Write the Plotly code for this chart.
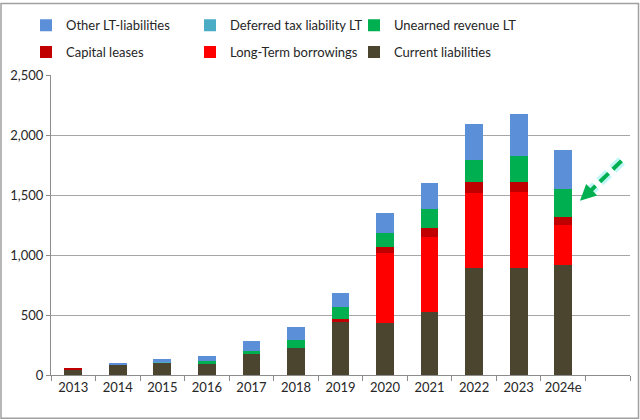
import plotly.graph_objects as go

years = ["2013", "2014", "2015", "2016", "2017", "2018", "2019", "2020", "2021", "2022", "2023", "2024e"]
current_liabilities = [40, 80, 108, 88, 171, 229, 441, 436, 524, 888, 894, 919]
long_term_borrowings = [0, 0, 0, 0, 0, 0, 0, 577, 627, 627, 632, 334]
capital_leases = [18, 0, 0, 0, 0, 0, 28, 55, 74, 91, 83, 64]
unearned_revenue_lt = [0, 0, 0, 25, 30, 63, 97, 119, 158, 185, 213, 229]
deferred_tax_lt = [0, 0, 3, 0, 0, 0, 0, 0, 0, 0, 0, 0]
other_lt_liabilities = [0, 17, 24, 44, 86, 105, 119, 165, 215, 298, 356, 325]
y_ticks = [0, 500, 1000, 1500, 2000, 2500]

FONT = "Lato"
TXT = "#262626"

# stack order bottom-up; legend rows shown in reversed order
series = [
    ("Current liabilities", current_liabilities, "#4B4530", "legend2"),
    ("Long-Term borrowings", long_term_borrowings, "#FF0000", "legend2"),
    ("Capital leases", capital_leases, "#C00000", "legend2"),
    ("Unearned revenue LT", unearned_revenue_lt, "#00B050", "legend"),
    ("Deferred tax liability LT", deferred_tax_lt, "#4BACC6", "legend"),
    ("Other LT-liabilities", other_lt_liabilities, "#5B8FD8", "legend"),
]

fig = go.Figure()
for name, vals, col, lg in series:
    fig.add_trace(go.Bar(x=years, y=vals, name=name, marker=dict(color=col, line=dict(width=0)),
                         legend=lg))

W, H = 640, 420
ml, mr, mt, mb = 51, 10, 73, 45
pw, ph = W - ml - mr, H - mt - mb

def px(x):
    return (x - ml) / pw

def py(y):
    return (H - mb - y) / ph

leg_common = dict(orientation="h", xanchor="left", yanchor="middle", traceorder="reversed",
                  font=dict(family=FONT, size=13, color=TXT), entrywidth=119, entrywidthmode="pixels",
                  bgcolor="rgba(0,0,0,0)")

fig.update_layout(
    width=W, height=H,
    margin=dict(l=ml, r=mr, t=mt, b=mb),
    barmode="stack", bargap=0.6,
    plot_bgcolor="white", paper_bgcolor="white",
    font=dict(family=FONT, size=13, color=TXT),
    legend=dict(x=px(26), y=py(23), **leg_common),
    legend2=dict(x=px(26), y=py(50), **leg_common),
    xaxis=dict(type="category", categoryorder="array", categoryarray=years + [" "],
               range=[-0.5, 12.5], showline=True, linecolor="#8C8C8C", linewidth=1,
               ticks="outside", tickson="boundaries", ticklen=5, tickcolor="#8C8C8C",
               tickangle=0, showgrid=False, tickfont=dict(family=FONT, size=13, color=TXT)),
    yaxis=dict(range=[0, 2500], tickvals=y_ticks, tickformat=",", showline=True, linecolor="#8C8C8C",
               linewidth=1, ticks="outside", ticklen=4, tickcolor="#8C8C8C", gridcolor="#A6A6A6",
               gridwidth=1, zeroline=False, tickfont=dict(family=FONT, size=13, color=TXT)),
    showlegend=True,
)

# outer chart border
fig.add_shape(type="rect", xref="paper", yref="paper", x0=px(1), x1=px(638.5), y0=py(418.5), y1=py(1),
              line=dict(color="#A0A0A0", width=1.5), fillcolor="rgba(0,0,0,0)", layer="above")

# dashed highlight arrow
tail = (621.5, 159.5)
head = (587, 193)
fig.add_shape(type="line", xref="paper", yref="paper", x0=px(tail[0]), y0=py(tail[1]),
              x1=px(head[0]), y1=py(head[1]), line=dict(color="rgba(120,235,235,0.45)", width=10, dash="12px,6px"))
fig.add_shape(type="line", xref="paper", yref="paper", x0=px(tail[0]), y0=py(tail[1]),
              x1=px(head[0]), y1=py(head[1]), line=dict(color="#00B050", width=4, dash="12px,6px"))
fig.add_annotation(xref="paper", yref="paper", x=px(580), y=py(199.5), ax=8, ay=-7.5, text="",
                   showarrow=True, arrowhead=2, arrowsize=0.8, arrowwidth=4, arrowcolor="#00B050")

fig.write_html("out.html")
